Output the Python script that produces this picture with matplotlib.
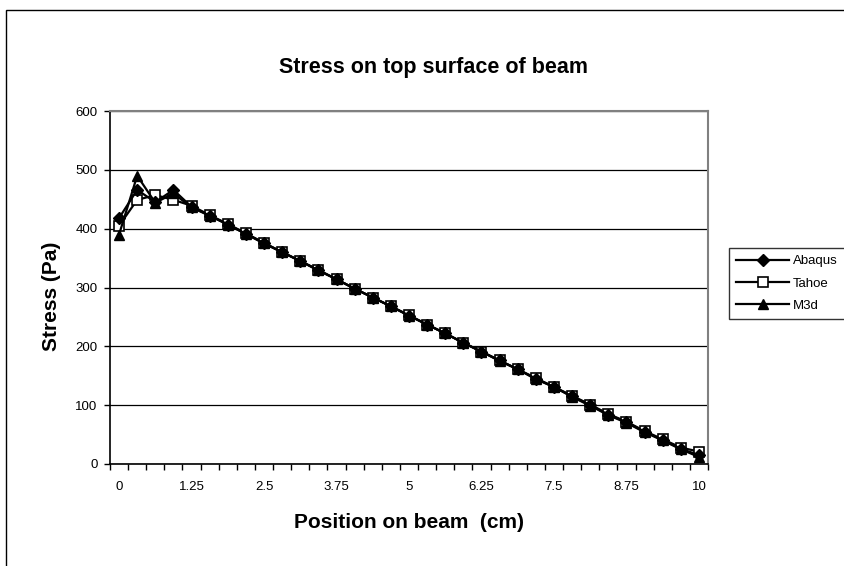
import matplotlib
matplotlib.use('Agg')
import matplotlib.pyplot as plt
from matplotlib.patches import Rectangle
from matplotlib.ticker import FixedLocator, NullFormatter

plt.rcParams['font.family'] = ['Liberation Sans', 'DejaVu Sans']

# positions along the beam (cm), one category per node
positions = [0, 0.3125, 0.625, 0.9375, 1.25, 1.5625, 1.875, 2.1875, 2.5, 2.8125,
             3.125, 3.4375, 3.75, 4.0625, 4.375, 4.6875, 5, 5.3125, 5.625, 5.9375,
             6.25, 6.5625, 6.875, 7.1875, 7.5, 7.8125, 8.125, 8.4375, 8.75, 9.0625,
             9.375, 9.6875, 10]
tick_labels = ['0', '1.25', '2.5', '3.75', '5', '6.25', '7.5', '8.75', '10']

abaqus = [418, 466, 445, 466, 437, 422, 407, 391, 375, 360, 345, 329, 314, 298,
          283, 268, 252, 237, 222, 206, 191, 176, 161, 145, 131, 115, 100, 84,
          71, 55, 41, 26, 15]
tahoe = [405, 449, 457, 449, 439, 423, 408, 392, 376, 360, 345, 330, 314, 298,
         283, 268, 253, 237, 222, 206, 191, 176, 161, 146, 131, 116, 101, 85,
         72, 56, 42, 28, 21]
m3d = [390, 490, 444, 460, 436, 422, 407, 391, 375, 360, 345, 329, 314, 298,
       283, 268, 252, 237, 222, 206, 191, 175, 161, 144, 131, 114, 99, 83,
       70, 54, 40, 25, 12]

W, H = 845, 566
fig = plt.figure(figsize=(W / 100, H / 100), dpi=100)
ax = fig.add_axes([110 / W, 1 - 464 / H, (708 - 110) / W, (464 - 111) / H])

idx = list(range(len(positions)))
ax.plot(idx, abaqus, color='black', lw=1.6, marker='D', ms=6.5,
        mfc='black', mec='black', label='Abaqus', zorder=4)
ax.plot(idx, tahoe, color='black', lw=1.6, marker='s', ms=7,
        mfc='white', mec='black', mew=1.2, label='Tahoe', zorder=3)
ax.plot(idx, m3d, color='black', lw=1.6, marker='^', ms=7,
        mfc='black', mec='black', label='M3d', zorder=5)

ax.set_xlim(-0.5, len(positions) - 0.5)
ax.set_ylim(0, 600)
ax.set_yticks(range(0, 601, 100))
ax.yaxis.grid(True, color='black', lw=0.9)
ax.set_axisbelow(True)

label_pos = [positions.index(float(t)) if '.' in t else positions.index(int(t))
             for t in tick_labels]
ax.set_xticks(label_pos)
ax.set_xticklabels(tick_labels)
ax.xaxis.set_minor_locator(FixedLocator([i - 0.5 for i in range(len(positions) + 1)]))
ax.xaxis.set_minor_formatter(NullFormatter())
ax.tick_params(axis='x', which='major', length=0, pad=12, labelsize=9.5)
ax.tick_params(axis='x', which='minor', length=4, width=1, direction='out')
ax.tick_params(axis='y', length=4, width=1, direction='out', pad=5, labelsize=9.5)

for s in ['left', 'bottom']:
    ax.spines[s].set_color('black')
    ax.spines[s].set_linewidth(1.2)
for s in ['top', 'right']:
    ax.spines[s].set_color('#808080')
    ax.spines[s].set_linewidth(1.5)

fig.text(434 / W, 1 - 67 / H, 'Stress on top surface of beam', ha='center',
         va='center', fontsize=15.5, fontweight='bold')
fig.text(409 / W, 1 - 522 / H, 'Position on beam  (cm)', ha='center',
         va='center', fontsize=15, fontweight='bold')
fig.text(52 / W, 1 - 296 / H, 'Stress (Pa)', ha='center', va='center',
         rotation=90, fontsize=15, fontweight='bold')

leg = fig.legend(loc='upper left', bbox_to_anchor=(729 / W, 1 - 248 / H),
                 bbox_transform=fig.transFigure, borderaxespad=0, fontsize=9.5,
                 frameon=True, fancybox=False, edgecolor='black',
                 handlelength=4, labelspacing=0.75, borderpad=0.55,
                 handletextpad=0.3)
leg.get_frame().set_linewidth(1)

fig.add_artist(Rectangle((6 / W, -0.2), 1.5, 1.2 - 10 / H, transform=fig.transFigure,
                         fill=False, edgecolor='black', lw=1))

fig.savefig('out.png', dpi=100)
